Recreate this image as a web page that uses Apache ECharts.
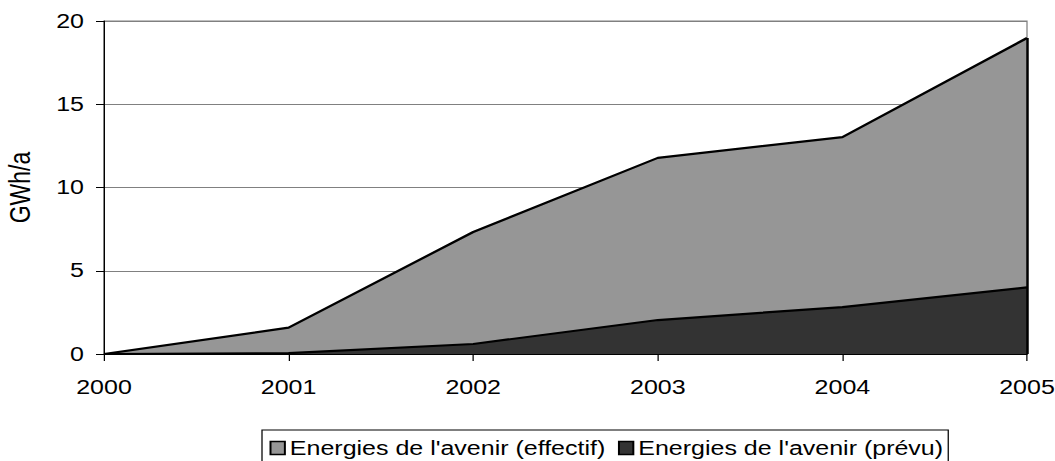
<!DOCTYPE html>
<html><head><meta charset="utf-8">
<script src="https://cdn.jsdelivr.net/npm/echarts@6/dist/echarts.min.js"></script>
<style>html,body{margin:0;padding:0;background:#fff;overflow:hidden}
#c{width:844px;height:461px;transform:scaleX(1.25);transform-origin:0 0}</style>
</head><body><div id="c"></div>
<script>
const years = ['2000','2001','2002','2003','2004','2005'];
const effectif = [0, 1.58, 7.33, 11.78, 13.03, 18.98];
const prevu = [0, 0.05, 0.6, 2.04, 2.82, 4.0];
const yTicks = [0, 5, 10, 15, 20];
const nameEff = "Energies de l'avenir (effectif)";
const namePrev = "Energies de l'avenir (prévu)";
const font = "'Liberation Sans', Arial, sans-serif";
const lastYear = years[years.length - 1];
const chart = echarts.init(document.getElementById('c'), null, {renderer: 'svg'});
chart.setOption({
  animation: false,
  grid: {left: 83.2, right: 22.4, top: 21, bottom: 107, containLabel: false, outerBoundsMode: 'none',
         show: true, borderColor: '#808080', borderWidth: 1},
  legend: {
    left: 209.6, top: 430, icon: 'rect', itemWidth: 11.5, itemHeight: 13, itemGap: 10,
    borderColor: '#000', borderWidth: 1, padding: [8, 4, 8, 6],
    textStyle: {fontFamily: font, fontSize: 20, color: '#000', padding: [0,0,0,-1]},
    itemStyle: {borderColor: '#000', borderWidth: 1.6},
    data: [nameEff, namePrev]
  },
  xAxis: {
    type: 'category', data: years, boundaryGap: false,
    axisLine: {lineStyle: {color: '#000', width: 1}},
    axisTick: {show: true, length: 7, lineStyle: {color: '#000'}},
    axisLabel: {fontFamily: font, fontSize: 20, color: '#000', margin: 23},
    splitLine: {show: false}
  },
  yAxis: {
    type: 'value', min: 0, max: 20, interval: 5,
    name: 'GWh/a', nameLocation: 'middle', nameGap: 56, nameRotate: 90,
    nameTextStyle: {fontFamily: font, fontSize: 23, color: '#000'},
    axisLine: {show: true, lineStyle: {color: '#000', width: 1}},
    axisTick: {show: true, length: 6.4, lineStyle: {color: '#000'}},
    axisLabel: {fontFamily: font, fontSize: 20, color: '#000', margin: 16,
      formatter: v => yTicks.includes(v) ? String(v) : ''},
    splitLine: {show: true, lineStyle: {color: '#808080', width: 1}}
  },
  series: [
    {name: nameEff, type: 'line', data: effectif, symbol: 'none', z: 2,
     lineStyle: {color: '#000', width: 2.2}, itemStyle: {color: '#969696'},
     areaStyle: {color: '#969696', opacity: 1},
     markLine: {silent: true, symbol: 'none', label: {show: false},
       lineStyle: {color: '#000', width: 2, type: 'solid'},
       data: [[{coord: [lastYear, 0]}, {coord: [lastYear, effectif[effectif.length - 1]]}]]}},
    {name: namePrev, type: 'line', data: prevu, symbol: 'none', z: 3,
     lineStyle: {color: '#000', width: 2.2}, itemStyle: {color: '#333333'},
     areaStyle: {color: '#333333', opacity: 1}}
  ]
});
</script></body></html>
